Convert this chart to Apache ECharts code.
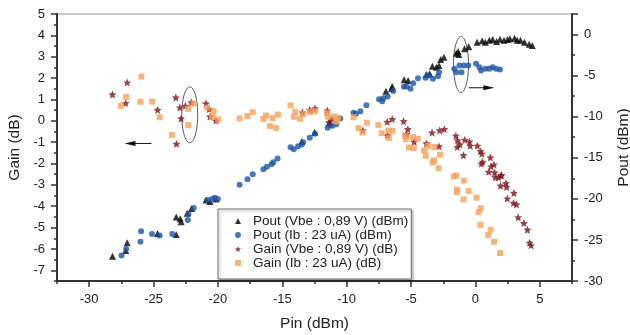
<!DOCTYPE html>
<html>
<head>
<meta charset="utf-8">
<script src="https://cdn.jsdelivr.net/npm/echarts@6/dist/echarts.min.js"></script>
<style>
  html, body { margin: 0; padding: 0; background: #fff; }
  #chart { width: 630px; height: 335px; }
</style>
</head>
<body>
<div id="chart"></div>
<script>
// Pin (dBm) vs Pout (dBm), right axis
const poutVbe = [
  [-28.19,-27.0],[-27.16,-26.28],[-27.05,-25.34],[-24.69,-24.21],[-23.24,-24.33],[-23.24,-22.2],
  [-22.86,-22.8],[-22.93,-22.42],[-22.39,-21.74],[-22.05,-21.17],[-20.93,-20.13],[-20.62,-20.32],
  [-20.15,-20.01],[-13.49,-13.02],[-12.49,-11.89],[-11.33,-10.71],[-6.95,-6.9],[-6.51,-6.57],
  [-6.46,-6.33],[-5.54,-5.51],[-5.23,-5.6],[-3.81,-4.87],[-3.55,-4.78],[-3.34,-3.86],[-3.03,-3.98],
  [-2.83,-3.77],[-2.7,-3.04],[-2.45,-2.76],[-1.49,-2.27],[-1.29,-2.43],[-1.34,-2.07],[-0.85,-1.74],
  [-0.52,-1.5],[0.13,-0.94],[0.52,-0.77],[0.77,-0.94],[1.08,-0.69],[1.34,-0.61],[1.64,-0.85],
  [1.91,-0.57],[2.22,-0.69],[2.49,-0.61],[2.68,-0.52],[3.03,-0.45],[3.24,-0.69],[3.5,-0.69],
  [3.81,-0.94],[4.17,-1.18],[4.42,-1.34]
]
const poutIb = [
  [-27.49,-26.89],[-27.13,-26.12],[-26.02,-25.22],[-25.97,-23.93],[-25.12,-24.27],[-24.53,-24.45],
  [-23.55,-24.27],[-22.34,-22.57],[-22.29,-21.84],[-21.88,-21.11],[-20.8,-20.13],[-20.46,-20.01],
  [-20.25,-19.87],[-20.0,-20.01],[-18.32,-18.28],[-17.71,-17.6],[-17.3,-17.0],[-16.47,-16.39],
  [-16.19,-16.09],[-15.83,-15.78],[-15.7,-15.54],[-15.37,-15.09],[-14.36,-13.71],[-14.11,-13.95],
  [-13.77,-13.59],[-13.49,-13.38],[-13.38,-13.1],[-12.87,-12.57],[-12.46,-12.08],[-11.48,-11.35],
  [-11.33,-11.03],[-11.12,-11.11],[-10.81,-10.91],[-10.5,-10.22],[-9.47,-9.53],[-9.27,-9.65],
  [-8.93,-9.33],[-8.47,-8.6],[-7.49,-7.87],[-7.24,-8.11],[-6.82,-7.54],[-7.16,-7.75],[-6.39,-6.87],
  [-5.56,-6.36],[-5.35,-6.33],[-5.04,-6.61],[-4.84,-5.92],[-4.46,-5.32],[-3.88,-5.27],[-3.65,-4.99],
  [-3.3,-5.39],[-2.91,-5.07],[-2.83,-4.59],[-1.64,-4.17],[-1.49,-4.59],[-1.08,-4.59],[-1.24,-3.77],
  [-0.9,-3.77],[-0.56,-3.77],[0.05,-3.56],[0.31,-3.98],[0.44,-4.38],[0.77,-4.17],[1.08,-4.17],
  [1.34,-3.98],[1.6,-4.17],[1.91,-4.26]
]
// Pin (dBm) vs Gain (dB), left axis
const gainVbe = [
  [-28.19,1.23],[-27.05,1.79],[-27.16,0.83],[-24.69,0.51],[-23.27,1.09],[-23.22,-1.08],[-22.96,0.62],
  [-22.53,0.7],[-22.86,0.11],[-22.06,0.86],[-20.93,0.81],[-20.67,0.55],[-20.62,0.2],[-20.15,0.01],
  [-13.44,0.39],[-12.87,0.51],[-12.46,0.58],[-11.51,0.48],[-11.14,0.09],[-11.37,-0.06],[-8.75,-0.45],
  [-6.85,-0.05],[-6.46,0.08],[-6.83,-0.68],[-5.58,-0.02],[-5.25,-0.39],[-5.35,-0.62],[-4.76,-0.98],
  [-3.81,-1.06],[-3.37,-0.55],[-2.78,-0.45],[-2.42,-0.39],[-2.83,-1.2],[-1.52,-0.7],[-1.39,-0.92],
  [-1.21,-1.11],[-1.41,-1.23],[-0.83,-0.89],[-0.46,-0.98],[-0.41,-1.17],[-0.93,-1.61],[0.15,-1.17],
  [0.39,-1.42],[0.49,-1.54],[1.16,-1.72],[0.56,-1.92],[0.46,-2.01],[1.44,-2.05],[1.21,-2.14],
  [1.03,-2.39],[1.49,-2.42],[2.03,-2.54],[1.54,-2.64],[1.8,-2.65],[1.98,-2.57],[2.37,-2.92],
  [1.95,-3.04],[2.42,-3.1],[2.99,-3.38],[2.47,-3.64],[2.96,-3.85],[3.19,-3.92],[3.32,-4.52],
  [3.76,-4.79],[4.04,-5.1],[4.21,-5.71],[4.32,-5.83]
]
const gainIb = [
  [-27.54,0.7],[-27.13,1.12],[-25.95,2.07],[-26.02,0.89],[-25.12,0.9],[-24.53,0.17],[-23.58,-0.66],
  [-22.32,0.56],[-22.32,-0.2],[-21.88,0.81],[-20.83,0.62],[-20.33,0.45],[-20.46,0.19],[-19.98,0.06],
  [-18.32,0.11],[-17.71,0.22],[-17.3,0.41],[-16.47,0.08],[-16.27,0.25],[-15.75,0.13],[-15.96,-0.25],
  [-15.5,-0.34],[-15.34,0.29],[-14.36,0.72],[-14.0,0.42],[-14.11,0.19],[-13.64,0.09],[-13.38,0.31],
  [-12.87,0.41],[-12.46,0.45],[-11.53,0.36],[-11.45,0.19],[-10.94,0.2],[-10.68,0.13],[-10.81,-0.03],
  [-9.47,0.17],[-9.09,-0.34],[-8.44,-0.09],[-8.78,-0.55],[-7.54,-0.2],[-7.28,-0.58],[-6.77,-0.45],
  [-6.72,-0.81],[-6.43,-0.47],[-5.48,-0.7],[-5.41,-0.86],[-4.86,-0.77],[-4.48,-0.84],[-5.17,-1.25],
  [-4.79,-1.28],[-3.68,-1.17],[-3.19,-1.23],[-3.99,-1.39],[-3.86,-1.64],[-2.76,-1.59],[-3.22,-1.86],
  [-3.34,-1.95],[-2.86,-2.22],[-1.68,-2.61],[-1.49,-2.56],[-0.9,-2.8],[-1.43,-3.23],[-1.44,-3.34],
  [-0.54,-3.28],[-0.93,-3.68],[0.08,-3.6],[0.41,-4.09],[0.25,-4.28],[0.39,-4.87],[1.18,-5.1],
  [0.98,-5.35],[1.44,-5.66],[1.91,-6.19]
]

const seriesNames = [
  "Pout (Vbe : 0,89 V) (dBm)",
  "Pout (Ib : 23 uA) (dBm)",
  "Gain (Vbe : 0,89 V) (dB)",
  "Gain (Ib : 23 uA) (dB)",
]
const xTicks = [-30, -25, -20, -15, -10, -5, 0, 5]
const gainTicks = [-7, -6, -5, -4, -3, -2, -1, 0, 1, 2, 3, 4, 5]

const FONT = "Liberation Sans, Arial, sans-serif"
const STAR = "path://M10,0 L12.9,6.9 L20,7.6 L14.6,12.3 L16.2,19.5 L10,15.7 L3.8,19.5 L5.4,12.3 L0,7.6 L7.1,6.9 Z"
const axisDark = { show: true, onZero: false, lineStyle: { color: "#333", width: 2 } }
const labelStyle = { color: "#222", fontSize: 13, fontFamily: FONT }
const nameStyle = { color: "#222", fontSize: 15.5, fontFamily: FONT }

const chart = echarts.init(document.getElementById("chart"))

chart.setOption({
  animation: false,
  grid: {
    left: 57, right: 58, top: 14, bottom: 54,
    outerBoundsMode: "none",
    show: true, borderColor: "#999", borderWidth: 1,
  },
  legend: {
    orient: "vertical",
    left: 218,
    top: 209,
    padding: [5, 3, 9, 17],
    itemGap: 0,
    itemWidth: 6,
    itemHeight: 6,
    borderColor: "#666",
    borderWidth: 1,
    backgroundColor: "#fff",
    shadowColor: "rgba(0,0,0,0.25)",
    shadowBlur: 2,
    shadowOffsetX: 2,
    shadowOffsetY: 2,
    textStyle: { color: "#222", fontSize: 13.5, fontFamily: FONT, lineHeight: 13.3, padding: [0, 0, 0, 7] },
    data: seriesNames,
  },
  xAxis: [
    {
      type: "value", min: -32.5, max: 7.5, position: "bottom",
      name: "Pin (dBm)", nameLocation: "middle", nameGap: 35, nameTextStyle: nameStyle,
      axisLine: axisDark,
      axisTick: { customValues: xTicks, length: 6, lineStyle: { color: "#333", width: 1.5 } },
      axisLabel: { customValues: xTicks, margin: 12, ...labelStyle },
      splitLine: { show: false },
    },
    {
      // short minor ticks every 2.5
      type: "value", min: -32.5, max: 7.5, interval: 2.5, position: "bottom",
      axisLine: { show: false, onZero: false },
      axisTick: { show: true, length: 3, lineStyle: { color: "#333", width: 1.5 } },
      axisLabel: { show: false },
      splitLine: { show: false },
    },
  ],
  yAxis: [
    {
      type: "value", min: -7.5, max: 5, position: "left",
      name: "Gain (dB)", nameLocation: "middle", nameGap: 33, nameRotate: 90, nameTextStyle: nameStyle,
      axisLine: axisDark,
      axisTick: { customValues: gainTicks, length: 6, lineStyle: { color: "#333", width: 1.5 } },
      axisLabel: { customValues: gainTicks, margin: 12, ...labelStyle },
      splitLine: { show: false },
    },
    {
      type: "value", min: -30, max: 2.5, interval: 5, position: "right",
      name: "Pout (dBm)", nameLocation: "middle", nameGap: 44, nameRotate: 90, nameTextStyle: nameStyle,
      axisLine: axisDark,
      axisTick: { length: 6, lineStyle: { color: "#333", width: 1.5 } },
      minorTick: { show: true, splitNumber: 2, length: 3, lineStyle: { color: "#333", width: 1.5 } },
      axisLabel: { margin: 12, showMaxLabel: false, ...labelStyle },
      splitLine: { show: false },
    },
    {
      // short minor ticks every 0.5 on the gain axis
      type: "value", min: -7.5, max: 5, interval: 0.5, position: "left",
      axisLine: { show: false, onZero: false },
      axisTick: { show: true, length: 3, lineStyle: { color: "#333", width: 1.5 } },
      axisLabel: { show: false },
      splitLine: { show: false },
    },
  ],
  series: [
    {
      name: seriesNames[0], type: "scatter", xAxisIndex: 0, yAxisIndex: 1,
      symbol: "triangle", symbolSize: 7, itemStyle: { color: "#000" }, data: poutVbe,
    },
    {
      name: seriesNames[1], type: "scatter", xAxisIndex: 0, yAxisIndex: 1,
      symbol: "circle", symbolSize: 6, itemStyle: { color: "#1B56A4" }, data: poutIb,
    },
    {
      name: seriesNames[2], type: "scatter", xAxisIndex: 0, yAxisIndex: 0,
      symbol: STAR, symbolSize: 8, itemStyle: { color: "#7E1518" }, data: gainVbe,
    },
    {
      name: seriesNames[3], type: "scatter", xAxisIndex: 0, yAxisIndex: 0,
      symbol: "rect", symbolSize: 6, itemStyle: { color: "#F9A05A" }, data: gainIb,
    },
  ],
})

// ellipses and arrows marking which axis each group reads on
const toPx = (si, v) => chart.convertToPixel({ seriesIndex: si }, v)
function arrow(a, b) {
  const dir = Math.sign(b[0] - a[0])
  return [
    { type: "line", silent: true, shape: { x1: a[0], y1: a[1], x2: b[0] - dir * 6, y2: b[1] },
      style: { stroke: "#111", lineWidth: 1 } },
    { type: "polygon", silent: true,
      shape: { points: [[b[0], b[1]], [b[0] - dir * 11, b[1] - 2.5], [b[0] - dir * 11, b[1] + 2.5]] },
      style: { fill: "#111" } },
  ]
}
const leftC = toPx(2, [-22.19, 0.28])
const rightC = toPx(0, [-1.12, -3.65])
chart.setOption({
  graphic: [
    { type: "ellipse", silent: true, shape: { cx: leftC[0], cy: leftC[1], rx: 8, ry: 28 },
      style: { fill: "none", stroke: "#555", lineWidth: 1 } },
    { type: "ellipse", silent: true, shape: { cx: rightC[0], cy: rightC[1], rx: 7.5, ry: 28 },
      style: { fill: "none", stroke: "#555", lineWidth: 1 } },
    ...arrow(toPx(2, [-25.17, -1.06]), toPx(2, [-27.26, -1.06])),
    ...arrow(toPx(0, [-0.52, -6.48]), toPx(0, [1.47, -6.48])),
  ],
})
</script>
</body>
</html>
